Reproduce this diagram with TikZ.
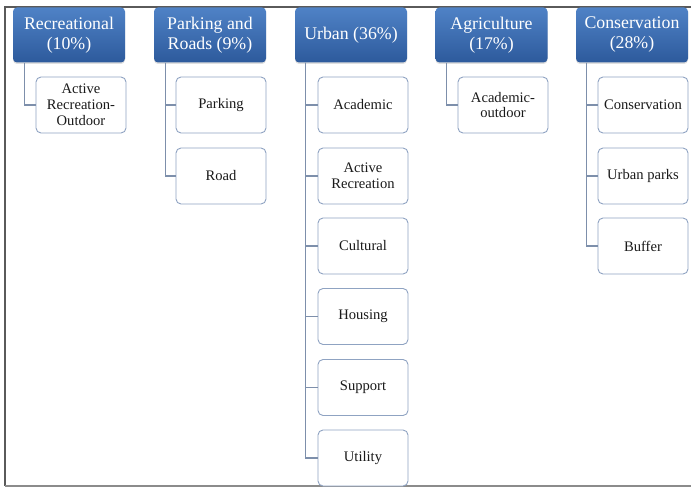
\documentclass[tikz,border=0pt]{standalone}
\usepackage{fontspec}
\setmainfont{Liberation Serif}
\usetikzlibrary{shadows}
\definecolor{hdrtop}{HTML}{4F82C6}
\definecolor{hdrbot}{HTML}{2D5A9C}
\definecolor{kidline}{HTML}{8FA3C2}
\definecolor{conline}{HTML}{7D8FAB}
\definecolor{framec}{HTML}{5A5A5A}
\definecolor{txtc}{HTML}{1A1A1A}
\tikzset{
  hdr/.style={rounded corners=4pt, top color=hdrtop, bottom color=hdrbot, draw=none,
    minimum width=112pt, minimum height=55pt, inner sep=0pt, align=center,
    text=white, font=\fontsize{17.8}{20}\selectfont,
    drop shadow={shadow xshift=0pt, shadow yshift=-1.5pt, opacity=0.25}},
  kid/.style={rounded corners=5pt, draw=kidline, line width=0.9pt, fill=white,
    minimum width=90pt, minimum height=56pt, inner sep=0pt, align=center,
    text=txtc, font=\fontsize{14.6}{15.8}\selectfont},
  con/.style={draw=conline, line width=1.3pt},
  framel/.style={draw=framec, line width=1.2pt}
}
\begin{document}
\begin{tikzpicture}[x=1pt,y=-1pt]
\useasboundingbox (0,0) rectangle (691,487);
\fill[white] (0,0) rectangle (691,487);
% frame
\coordinate (ftl) at (5,7);
\coordinate (ftr) at (691,7);
\coordinate (fbl) at (5,486);
\coordinate (fbr) at (691,486);
\draw[framel] (ftr) -- (ftl) -- (fbl);
\draw[draw=framec!70, line width=1.5pt] (fbl) -- (fbr);
\node[hdr] (rec) at (69,35) {Recreational\\(10\%)};
\node[hdr] (park) at (210,35) {Parking and\\Roads (9\%)};
\node[hdr] (urb) at (351,35) {Urban (36\%)};
\node[hdr] (agr) at (491.5,35) {Agriculture\\(17\%)};
\node[hdr] (cons) at (632,35) {Conservation\\(28\%)};

\node[kid] (aro) at (81,105) {Active\\Recreation-\\Outdoor};
\node[kid] (parking) at (221,105) {Parking};
\node[kid] (road) at (221,176) {Road};
\node[kid] (acad) at (363,105) {Academic};
\node[kid] (actrec) at (363,176) {Active\\Recreation};
\node[kid] (cult) at (363,246) {Cultural};
\node[kid] (hous) at (363,316.5) {Housing};
\node[kid] (supp) at (363,387.5) {Support};
\node[kid] (util) at (363,458) {Utility};
\node[kid] (acout) at (503,105) {Academic-\\outdoor};
\node[kid] (consk) at (643,105) {Conservation};
\node[kid] (upark) at (643,176) {Urban parks};
\node[kid] (buff) at (643,246) {Buffer};

\draw[con] ([xshift=12pt]rec.south west) |- (aro.west);
\draw[con] ([xshift=12pt]park.south west) |- (road.west);
\draw[con] ([xshift=12pt]park.south west) |- (parking.west);
\draw[con] ([xshift=11pt]urb.south west) |- (util.west);
\foreach \k in {acad,actrec,cult,hous,supp}
  \draw[con] ([xshift=11pt]urb.south west) |- (\k.west);
\draw[con] ([xshift=11pt]agr.south west) |- (acout.west);
\draw[con] ([xshift=11pt]cons.south west) |- (buff.west);
\draw[con] ([xshift=11pt]cons.south west) |- (consk.west);
\draw[con] ([xshift=11pt]cons.south west) |- (upark.west);
\end{tikzpicture}
\end{document}
